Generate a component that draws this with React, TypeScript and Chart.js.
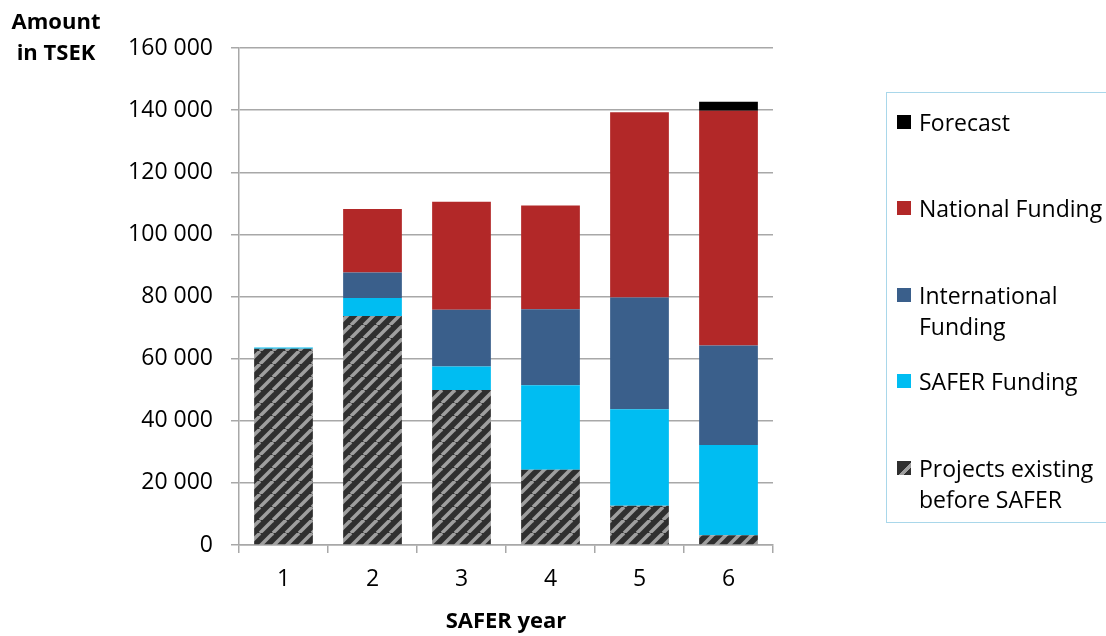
import React, { useEffect, useRef } from "react";
import { Chart, registerables } from "chart.js";

Chart.register(...registerables);

const categories = ["1", "2", "3", "4", "5", "6"];
const existingProjects = [63200, 73700, 49900, 24200, 12600, 3100];
const saferFunding = [400, 5800, 7600, 27200, 31100, 29100];
const internationalFunding = [0, 8200, 18200, 24500, 36000, 32000];
const nationalFunding = [0, 20500, 34800, 33400, 59600, 75600];
const forecast = [0, 0, 0, 0, 0, 2900];

const FONT = "'Open Sans', 'DejaVu Sans', sans-serif";
const GRID = "#a8a8a8";

function makeStripePattern(): CanvasPattern | string {
  const s = 13;
  const c = document.createElement("canvas");
  c.width = s;
  c.height = s;
  const ctx = c.getContext("2d");
  if (!ctx) return "#2f2f2f";
  ctx.fillStyle = "#2f2f2f";
  ctx.fillRect(0, 0, s, s);
  ctx.strokeStyle = "#9f9f9f";
  ctx.lineWidth = 3.5;
  for (let k = -1; k <= 1; k++) {
    ctx.beginPath();
    ctx.moveTo(k * s, s);
    ctx.lineTo(k * s + s, 0);
    ctx.stroke();
  }
  const p = ctx.createPattern(c, "repeat");
  return p || "#2f2f2f";
}

const fmt = (v: number) => String(v).replace(/\B(?=(\d{3})+(?!\d))/g, " ");

export default function App() {
  const ref = useRef<HTMLCanvasElement | null>(null);

  useEffect(() => {
    if (!ref.current) return;
    const pattern = makeStripePattern();
    const chart = new Chart(ref.current, {
      type: "bar",
      data: {
        labels: categories,
        datasets: [
          { label: "Projects existing before SAFER", data: existingProjects, backgroundColor: pattern as any },
          { label: "SAFER Funding", data: saferFunding, backgroundColor: "#00bdf2" },
          { label: "International Funding", data: internationalFunding, backgroundColor: "#3a5f8b" },
          { label: "National Funding", data: nationalFunding, backgroundColor: "#b22828" },
          { label: "Forecast", data: forecast, backgroundColor: "#000000" },
        ],
      },
      options: {
        animation: false,
        responsive: true,
        maintainAspectRatio: false,
        layout: { padding: { top: 48, right: 333, bottom: 0, left: 0 } },
        plugins: { legend: { display: false }, tooltip: { enabled: false } },
        datasets: { bar: { categoryPercentage: 1, barPercentage: 0.66, borderWidth: 0 } },
        scales: {
          x: {
            stacked: true,
            grid: { drawOnChartArea: false, color: GRID, lineWidth: 1.5, tickLength: 8, offset: true },
            border: { color: GRID, width: 1.5 },
            ticks: { color: "#000", font: { family: FONT, size: 23 }, padding: 13 },
            title: {
              display: true,
              text: "SAFER year",
              color: "#000",
              font: { family: FONT, size: 22, weight: "bold" },
              padding: { top: 0, bottom: 1 },
            },
            afterFit: (scale: any) => {
              scale.height = 91;
            },
          },
          y: {
            stacked: true,
            min: 0,
            max: 160000,
            grid: { color: GRID, lineWidth: 1.5, tickLength: 8 },
            border: { color: GRID, width: 1.5 },
            ticks: {
              stepSize: 20000,
              color: "#000",
              font: { family: FONT, size: 23 },
              padding: 18,
              callback: (v: any) => fmt(Number(v)),
            },
            afterFit: (scale: any) => {
              scale.width = 239;
            },
          },
        },
      },
    } as any);
    return () => chart.destroy();
  }, []);

  const legendItems: { label: string[]; color?: string; striped?: boolean; top: number }[] = [
    { label: ["Forecast"], color: "#000000", top: 107 },
    { label: ["National Funding"], color: "#b22828", top: 193 },
    { label: ["International", "Funding"], color: "#3a5f8b", top: 280 },
    { label: ["SAFER Funding"], color: "#00bdf2", top: 366 },
    { label: ["Projects existing", "before SAFER"], striped: true, top: 453 },
  ];

  return (
    <div
      style={{
        position: "fixed",
        left: 0,
        top: 0,
        width: 1106,
        height: 636,
        background: "#fff",
        overflow: "hidden",
        fontFamily: FONT,
      }}
    >
      <canvas ref={ref} width={1106} height={636} style={{ display: "block" }} />
      <div
        style={{
          position: "absolute",
          left: 0,
          top: 5,
          width: 112,
          textAlign: "center",
          fontWeight: "bold",
          fontSize: 22,
          lineHeight: "31px",
          color: "#000",
        }}
      >
        Amount
        <br />
        in TSEK
      </div>
      <div
        style={{
          position: "absolute",
          left: 886,
          top: 92,
          width: 240,
          height: 431,
          border: "1.5px solid #a9d7ea",
          boxSizing: "border-box",
        }}
      />
      {legendItems.map((it) => (
        <div key={it.label.join(" ")} style={{ position: "absolute", left: 897, top: it.top, display: "flex" }}>
          <div
            style={{
              width: 14,
              height: 14,
              marginTop: 8,
              marginRight: 8,
              background: it.striped
                ? "linear-gradient(135deg, #2f2f2f 0 55%, #9f9f9f 55% 72%, #2f2f2f 72% 100%)"
                : it.color,
            }}
          />
          <div style={{ fontSize: 23, lineHeight: "31px", color: "#000", whiteSpace: "nowrap" }}>
            {it.label.map((l, i) => (
              <div key={i}>{l}</div>
            ))}
          </div>
        </div>
      ))}
    </div>
  );
}
